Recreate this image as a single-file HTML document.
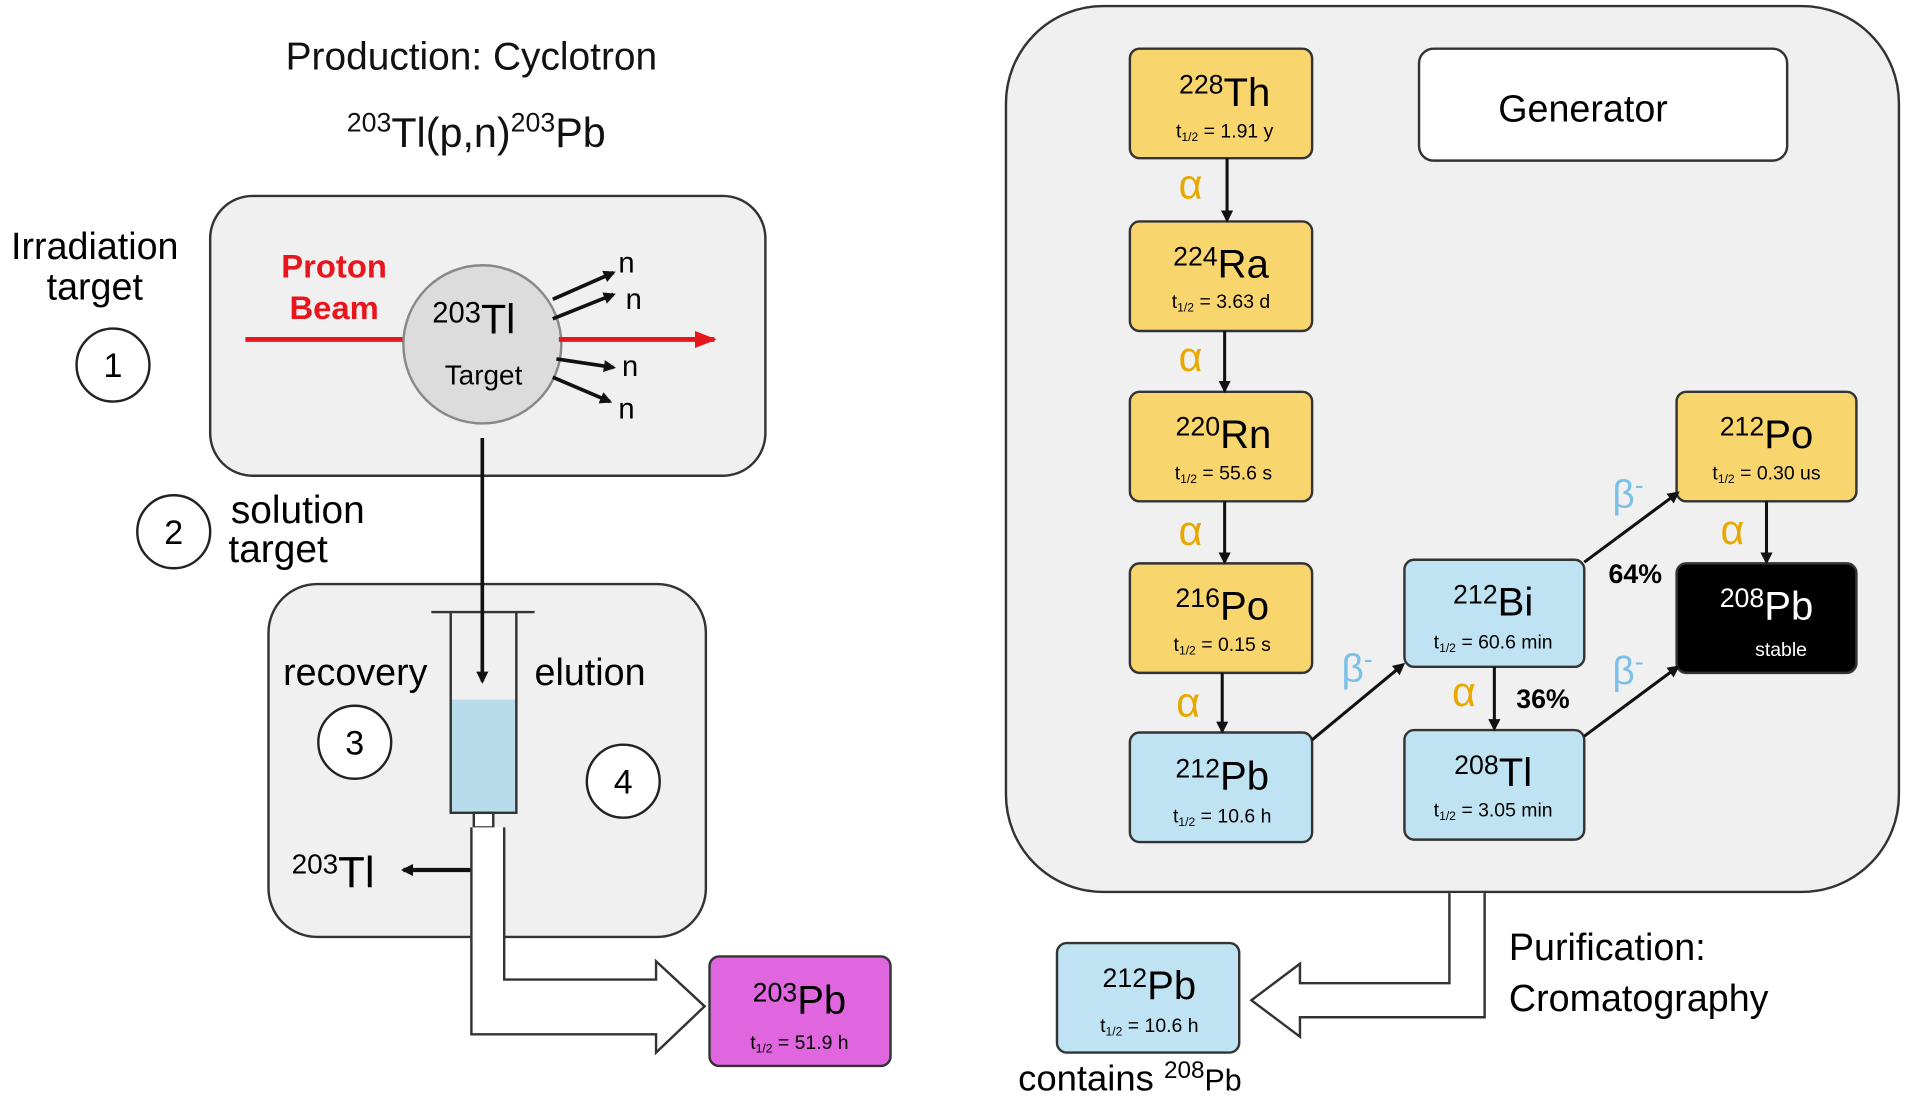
<!DOCTYPE html>
<html><head><meta charset="utf-8"><style>
html,body{margin:0;padding:0;background:#fff;width:1905px;height:1100px;overflow:hidden}
svg{display:block;font-family:"Liberation Sans",Arial,sans-serif}
</style></head><body>
<svg width="1905" height="1100" viewBox="0 0 1568 904" preserveAspectRatio="none" xmlns="http://www.w3.org/2000/svg">
<defs>
<marker id="ak" markerWidth="10" markerHeight="10" refX="8" refY="5" orient="auto" markerUnits="userSpaceOnUse"><path d="M0,0 L10,5 L0,10 z" fill="#111"/></marker>
<marker id="ar" markerWidth="18" markerHeight="14" refX="16" refY="7" orient="auto" markerUnits="userSpaceOnUse"><path d="M0,0 L18,7 L0,14 z" fill="#e8161c"/></marker>
</defs>
<!-- left -->
<text x="388" y="57" font-size="32" text-anchor="middle" fill="#111">Production: Cyclotron</text>
<text x="392" y="121" font-size="34" text-anchor="middle" fill="#111"><tspan font-size="22" dy="-13">203</tspan><tspan dy="13">Tl(p,n)</tspan><tspan font-size="22" dy="-13">203</tspan><tspan dy="13">Pb</tspan></text>
<rect x="173" y="161" width="457" height="230" rx="35" fill="#f0f0f0" stroke="#333" stroke-width="2"/>
<text x="78" y="213" font-size="31" text-anchor="middle">Irradiation</text>
<text x="78" y="246" font-size="31" text-anchor="middle">target</text>
<circle cx="93" cy="300" r="30" fill="#fff" stroke="#222" stroke-width="2"/>
<text x="93" y="310" font-size="28" text-anchor="middle">1</text>
<text x="275" y="228" font-size="27" font-weight="bold" fill="#e8161c" text-anchor="middle">Proton</text>
<text x="275" y="262" font-size="27" font-weight="bold" fill="#e8161c" text-anchor="middle">Beam</text>
<line x1="202" y1="279" x2="350" y2="279" stroke="#e8161c" stroke-width="4"/>
<circle cx="397" cy="283" r="65" fill="#dcdcdc" stroke="#888" stroke-width="2"/>
<line x1="460" y1="279" x2="588" y2="279" stroke="#e8161c" stroke-width="4" marker-end="url(#ar)"/>
<text x="390" y="274" font-size="34" text-anchor="middle"><tspan font-size="24" dy="-9">203</tspan><tspan dy="9">Tl</tspan></text>
<text x="398" y="316" font-size="23" text-anchor="middle">Target</text>
<g stroke="#111" stroke-width="3">
<line x1="455" y1="246" x2="505" y2="224" marker-end="url(#ak)"/>
<line x1="455" y1="262" x2="505" y2="242" marker-end="url(#ak)"/>
<line x1="458" y1="295" x2="505" y2="302" marker-end="url(#ak)"/>
<line x1="455" y1="310" x2="502" y2="330" marker-end="url(#ak)"/>
</g>
<g font-size="24"><text x="509" y="224">n</text><text x="515" y="254">n</text><text x="512" y="309">n</text><text x="509" y="344">n</text></g>
<circle cx="143" cy="437" r="30" fill="#fff" stroke="#222" stroke-width="2"/>
<text x="143" y="447" font-size="28" text-anchor="middle">2</text>
<text x="190" y="430" font-size="32">solution</text>
<text x="188" y="462" font-size="32">target</text>
<rect x="221" y="480" width="360" height="290" rx="40" fill="#f0f0f0" stroke="#333" stroke-width="2"/>
<text x="233" y="563" font-size="31">recovery</text>
<text x="440" y="563" font-size="31">elution</text>
<circle cx="292" cy="610" r="30" fill="#fff" stroke="#222" stroke-width="2"/>
<text x="292" y="620" font-size="28" text-anchor="middle">3</text>
<circle cx="513" cy="642" r="30" fill="#fff" stroke="#222" stroke-width="2"/>
<text x="513" y="652" font-size="28" text-anchor="middle">4</text>
<line x1="355" y1="503" x2="440" y2="503" stroke="#333" stroke-width="2"/>
<rect x="371" y="575" width="54" height="93" fill="#b8dcea"/>
<path d="M371,503 V668 H425 V503" fill="none" stroke="#333" stroke-width="2"/>
<rect x="390" y="668" width="16" height="12" fill="#fff" stroke="#333" stroke-width="2"/>
<line x1="397" y1="360" x2="397" y2="560" stroke="#111" stroke-width="3" marker-end="url(#ak)"/>
<path d="M395,680 V715 H332" fill="none" stroke="#111" stroke-width="3.5" marker-end="url(#ak)"/>
<text x="240" y="729" font-size="36"><tspan font-size="23" dy="-11">203</tspan><tspan dy="11">Tl</tspan></text>
<path d="M388,680 V850 H540 V865 L580,827 L540,790 V805 H415 V680" fill="#fff" stroke="#333" stroke-width="2"/>
<rect x="584" y="786" width="149" height="90" rx="8" fill="#e066e0" stroke="#333" stroke-width="2"/>
<text x="658" y="833" font-size="33" text-anchor="middle"><tspan font-size="22" dy="-10">203</tspan><tspan dy="10">Pb</tspan></text>
<text x="658" y="862" font-size="16" text-anchor="middle">t<tspan font-size="10" dy="3">1/2</tspan><tspan dy="-3"> = 51.9 h</tspan></text>
<!-- right -->
<rect x="828" y="5" width="735" height="728" rx="80" fill="#f0f0f0" stroke="#333" stroke-width="2"/>
<rect x="1168" y="40" width="303" height="92" rx="12" fill="#fff" stroke="#333" stroke-width="2"/>
<text x="1303" y="100" font-size="31" text-anchor="middle">Generator</text>
<g stroke="#333" stroke-width="2">
<rect x="930" y="40" width="150" height="90" rx="8" fill="#f9d56e"/>
<rect x="930" y="182" width="150" height="90" rx="8" fill="#f9d56e"/>
<rect x="930" y="322" width="150" height="90" rx="8" fill="#f9d56e"/>
<rect x="930" y="463" width="150" height="90" rx="8" fill="#f9d56e"/>
<rect x="930" y="602" width="150" height="90" rx="8" fill="#bfe3f3"/>
<rect x="1380" y="322" width="148" height="90" rx="8" fill="#f9d56e"/>
<rect x="1156" y="460" width="148" height="88" rx="8" fill="#bfe3f3"/>
<rect x="1380" y="463" width="148" height="90" rx="8" fill="#000"/>
<rect x="1156" y="600" width="148" height="90" rx="8" fill="#bfe3f3"/>
<rect x="870" y="775" width="150" height="90" rx="8" fill="#bfe3f3"/>
</g>
<g font-size="33" text-anchor="middle">
<text x="1008" y="87"><tspan font-size="22" dy="-10">228</tspan><tspan dy="10">Th</tspan></text>
<text x="1005" y="228"><tspan font-size="22" dy="-10">224</tspan><tspan dy="10">Ra</tspan></text>
<text x="1007" y="368"><tspan font-size="22" dy="-10">220</tspan><tspan dy="10">Rn</tspan></text>
<text x="1006" y="509"><tspan font-size="22" dy="-10">216</tspan><tspan dy="10">Po</tspan></text>
<text x="1006" y="649"><tspan font-size="22" dy="-10">212</tspan><tspan dy="10">Pb</tspan></text>
<text x="1454" y="368"><tspan font-size="22" dy="-10">212</tspan><tspan dy="10">Po</tspan></text>
<text x="1229" y="506"><tspan font-size="22" dy="-10">212</tspan><tspan dy="10">Bi</tspan></text>
<text x="1454" y="509" fill="#fff"><tspan font-size="22" dy="-10">208</tspan><tspan dy="10">Pb</tspan></text>
<text x="1229" y="646"><tspan font-size="22" dy="-10">208</tspan><tspan dy="10">Tl</tspan></text>
<text x="946" y="821"><tspan font-size="22" dy="-10">212</tspan><tspan dy="10">Pb</tspan></text>
</g>
<g font-size="16" text-anchor="middle">
<text x="1008" y="113">t<tspan font-size="10" dy="3">1/2</tspan><tspan dy="-3"> = 1.91 y</tspan></text>
<text x="1005" y="253">t<tspan font-size="10" dy="3">1/2</tspan><tspan dy="-3"> = 3.63 d</tspan></text>
<text x="1007" y="394">t<tspan font-size="10" dy="3">1/2</tspan><tspan dy="-3"> = 55.6 s</tspan></text>
<text x="1006" y="535">t<tspan font-size="10" dy="3">1/2</tspan><tspan dy="-3"> = 0.15 s</tspan></text>
<text x="1006" y="676">t<tspan font-size="10" dy="3">1/2</tspan><tspan dy="-3"> = 10.6 h</tspan></text>
<text x="1454" y="394">t<tspan font-size="10" dy="3">1/2</tspan><tspan dy="-3"> = 0.30 us</tspan></text>
<text x="1229" y="533">t<tspan font-size="10" dy="3">1/2</tspan><tspan dy="-3"> = 60.6 min</tspan></text>
<text x="1466" y="539" fill="#fff">stable</text>
<text x="1229" y="671">t<tspan font-size="10" dy="3">1/2</tspan><tspan dy="-3"> = 3.05 min</tspan></text>
<text x="946" y="848">t<tspan font-size="10" dy="3">1/2</tspan><tspan dy="-3"> = 10.6 h</tspan></text>
</g>
<g stroke="#111" stroke-width="2.5">
<line x1="1010" y1="130" x2="1010" y2="181" marker-end="url(#ak)"/>
<line x1="1008" y1="272" x2="1008" y2="321" marker-end="url(#ak)"/>
<line x1="1008" y1="412" x2="1008" y2="462" marker-end="url(#ak)"/>
<line x1="1006" y1="553" x2="1006" y2="601" marker-end="url(#ak)"/>
<line x1="1080" y1="608" x2="1155" y2="546" marker-end="url(#ak)"/>
<line x1="1304" y1="462" x2="1381" y2="405" marker-end="url(#ak)"/>
<line x1="1454" y1="412" x2="1454" y2="462" marker-end="url(#ak)"/>
<line x1="1230" y1="548" x2="1230" y2="599" marker-end="url(#ak)"/>
<line x1="1304" y1="605" x2="1381" y2="548" marker-end="url(#ak)"/>
</g>
<g font-size="34" fill="#e8a800" text-anchor="middle">
<text x="980" y="163">α</text><text x="980" y="305">α</text><text x="980" y="448">α</text><text x="978" y="589">α</text><text x="1426" y="447">α</text><text x="1205" y="580">α</text>
</g>
<g font-size="32" fill="#7cc0e6" text-anchor="middle">
<text x="1117" y="560">β<tspan font-size="22" dy="-11">-</tspan></text>
<text x="1340" y="417">β<tspan font-size="22" dy="-11">-</tspan></text>
<text x="1340" y="562">β<tspan font-size="22" dy="-11">-</tspan></text>
</g>
<text x="1346" y="479" font-size="22" font-weight="bold" text-anchor="middle">64%</text>
<text x="1270" y="582" font-size="22" font-weight="bold" text-anchor="middle">36%</text>
<path d="M1222,734 V836 H1070 V852 L1030,822 L1070,792 V808 H1193 V734" fill="#fff" stroke="#333" stroke-width="2"/>
<text x="1242" y="789" font-size="31">Purification:</text>
<text x="1242" y="831" font-size="31">Cromatography</text>
<text x="838" y="896" font-size="30">contains <tspan font-size="20" dy="-10">208</tspan><tspan dy="10" font-size="25">Pb</tspan></text>
</svg>
</body></html>
